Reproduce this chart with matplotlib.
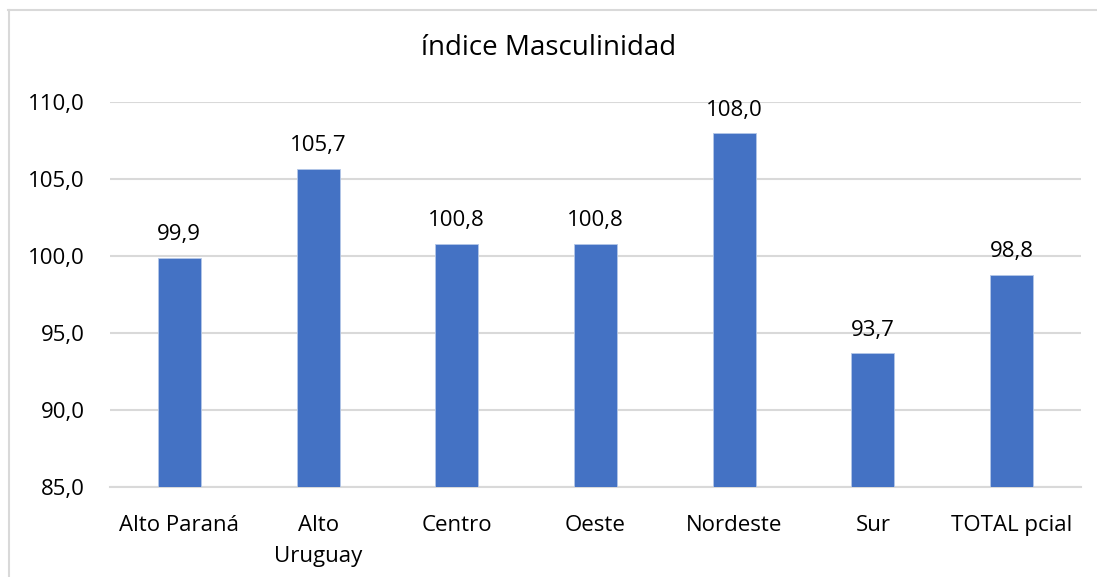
import matplotlib
matplotlib.use("Agg")
import matplotlib.pyplot as plt
from matplotlib.lines import Line2D

categories = ["Alto Paraná", "Alto\nUruguay", "Centro", "Oeste", "Nordeste", "Sur", "TOTAL pcial"]
values = [99.9, 105.7, 100.8, 100.8, 108.0, 93.7, 98.8]
yticks = [85, 90, 95, 100, 105, 110]
title = "índice Masculinidad"

plt.rcParams['font.family'] = ['Open Sans', 'DejaVu Sans']

W, H = 1097, 577
fig = plt.figure(figsize=(W / 100, H / 100), dpi=100)
ax = fig.add_axes([110 / W, 1 - 487.3 / H, (1081 - 110) / W, (487.3 - 102.3) / H])

FS = 16
x = list(range(len(categories)))
ax.bar(x, [v - 85 for v in values], bottom=85, width=0.31, color="#4472C4",
       edgecolor="#B4C7E7", linewidth=0.6, zorder=3)
ax.set_xlim(-0.5, len(categories) - 0.5)
ax.set_ylim(85, 110)
ax.set_yticks(yticks)
ax.set_yticklabels([f"{t:.1f}".replace(".", ",") for t in yticks], fontsize=FS)
ax.set_xticks(x)
ax.set_xticklabels(categories, fontsize=FS, linespacing=1.6)
ax.tick_params(axis='both', length=0, colors="#000000")
ax.tick_params(axis='x', pad=20)
ax.tick_params(axis='y', pad=18)
ax.grid(axis='y', color="#D9D9D9", linewidth=1.5, zorder=0)
for s in ["top", "right", "left"]:
    ax.spines[s].set_visible(False)
ax.spines["bottom"].set_color("#D9D9D9")
ax.spines["bottom"].set_linewidth(1.5)

for xi, v in zip(x, values):
    ax.annotate(f"{v:.1f}".replace(".", ","), (xi, v), xytext=(0, 9),
                textcoords="offset points", ha="center", va="bottom", fontsize=FS)

fig.text(0.5, 1 - 48 / H, title, ha="center", va="center", fontsize=20)

# chart border
fig.add_artist(Line2D([8 / W, 1], [1 - 10 / H, 1 - 10 / H], transform=fig.transFigure,
                      color="#D9D9D9", linewidth=1.5))
fig.add_artist(Line2D([8.5 / W, 8.5 / W], [0, 1 - 10 / H], transform=fig.transFigure,
                      color="#D9D9D9", linewidth=1.5))

fig.savefig("out.png", dpi=100)
